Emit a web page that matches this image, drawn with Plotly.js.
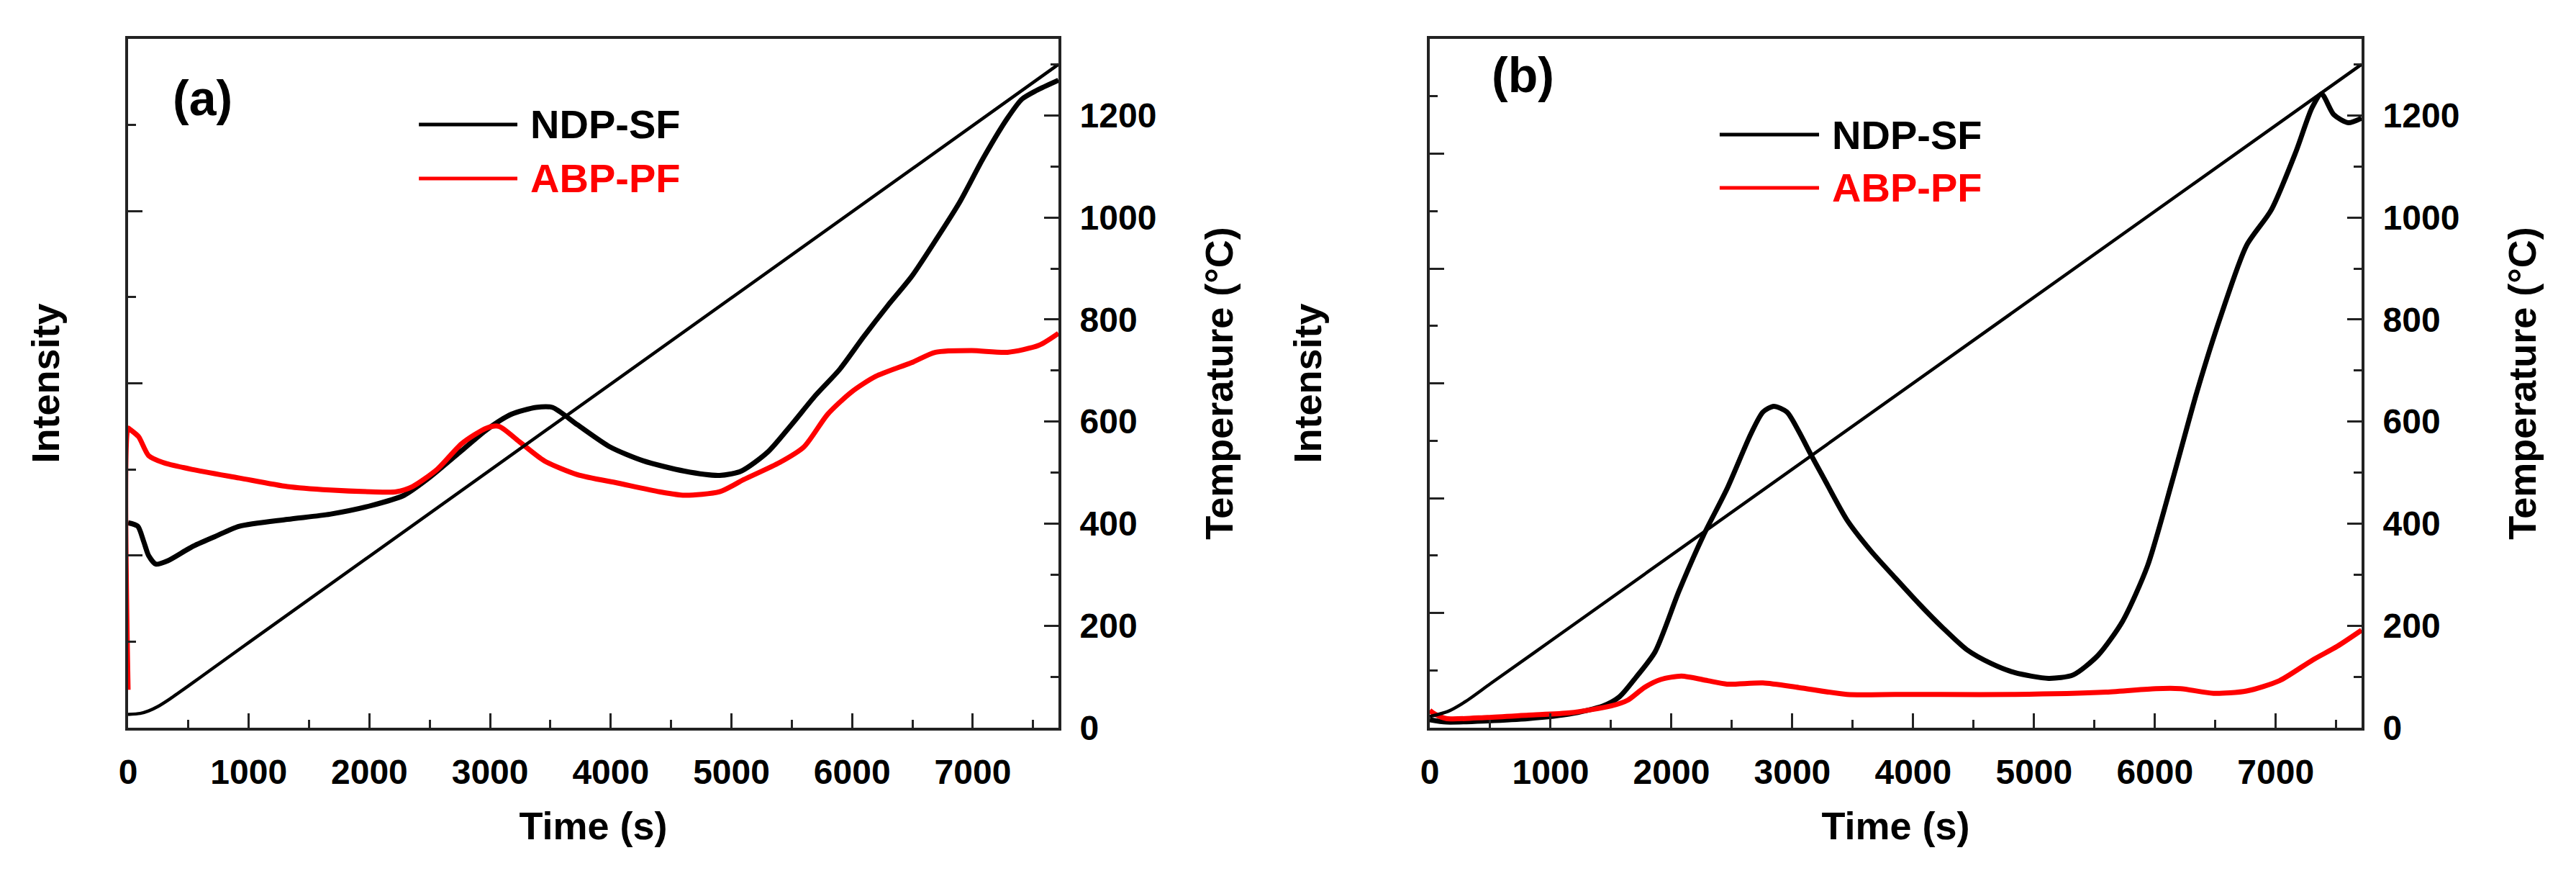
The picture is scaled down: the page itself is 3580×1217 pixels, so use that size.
<!DOCTYPE html>
<html>
<head>
<meta charset="utf-8">
<script src="https://cdn.plot.ly/plotly-3.0.1.min.js"></script>
<style>
  body { margin: 0; background: #fff; overflow: hidden; }
  #chart { width: 3580px; height: 1217px; }
</style>
</head>
<body>
<div id="chart"></div>
<script>
// panel (a) - time (s) / intensity (a.u.) / temperature (C)
var tA_ndp = [0, 80, 130, 170, 230, 330, 528, 720, 922, 1321, 1673, 2015, 2288, 2493, 2766, 2971, 3176, 3380, 3517, 3722, 3995, 4268, 4610, 4902, 5081, 5300, 5498, 5697, 5896, 6095, 6294, 6493, 6692, 6890, 7089, 7288, 7407, 7527, 7710];
var iA_ndp = [1.19, 1.17, 1.08, 1.00, 0.95, 0.97, 1.05, 1.11, 1.17, 1.21, 1.24, 1.29, 1.35, 1.45, 1.61, 1.73, 1.82, 1.86, 1.86, 1.76, 1.63, 1.55, 1.49, 1.465, 1.49, 1.60, 1.76, 1.93, 2.08, 2.27, 2.45, 2.62, 2.83, 3.05, 3.31, 3.54, 3.65, 3.70, 3.76];

var tA_abp = [0, 0, 20, 87, 170, 289, 528, 922, 1321, 1673, 2015, 2220, 2356, 2561, 2766, 2971, 3073, 3244, 3449, 3722, 4063, 4405, 4610, 4902, 5100, 5400, 5600, 5797, 5996, 6195, 6493, 6692, 6990, 7288, 7547, 7710];
var iA_abp = [0.22, 1.74, 1.73, 1.69, 1.58, 1.54, 1.50, 1.45, 1.40, 1.38, 1.37, 1.37, 1.40, 1.50, 1.65, 1.74, 1.75, 1.66, 1.55, 1.47, 1.42, 1.37, 1.35, 1.37, 1.44, 1.54, 1.63, 1.82, 1.95, 2.04, 2.12, 2.18, 2.19, 2.18, 2.22, 2.29];

var tA_temp = [0, 100, 170, 250, 350, 500, 700, 1000, 7710];
var TA = [26, 28, 33, 42, 57, 82, 116, 167, 1300];

// panel (b)
var tB_ndp = [0, 137, 478, 819, 1160, 1434, 1570, 1707, 1864, 2062, 2262, 2459, 2657, 2757, 2846, 2955, 3054, 3153, 3252, 3452, 3650, 3847, 4048, 4245, 4443, 4644, 4840, 5120, 5324, 5529, 5734, 5939, 6144, 6349, 6553, 6758, 6963, 7168, 7300, 7379, 7480, 7600, 7710];
var iB_ndp = [0.07, 0.05, 0.06, 0.08, 0.12, 0.19, 0.27, 0.44, 0.66, 1.19, 1.67, 2.08, 2.56, 2.75, 2.80, 2.75, 2.58, 2.38, 2.19, 1.81, 1.54, 1.31, 1.08, 0.87, 0.68, 0.56, 0.48, 0.43, 0.46, 0.63, 0.93, 1.41, 2.15, 2.93, 3.61, 4.20, 4.51, 5.02, 5.40, 5.52, 5.34, 5.27, 5.31];

var tB_abp = [0, 40, 137, 478, 819, 1160, 1502, 1638, 1775, 1911, 2082, 2300, 2459, 2757, 3054, 3452, 3847, 4232, 4840, 5597, 6007, 6212, 6485, 6758, 7031, 7305, 7510, 7710];
var iB_abp = [0.15, 0.12, 0.08, 0.09, 0.11, 0.13, 0.19, 0.24, 0.35, 0.42, 0.45, 0.41, 0.38, 0.39, 0.35, 0.29, 0.29, 0.29, 0.29, 0.31, 0.34, 0.34, 0.30, 0.32, 0.41, 0.59, 0.71, 0.85];

var tB_temp = [0, 150, 300, 500, 1000, 7710];
var TB = [22, 32, 52, 86, 170, 1300];

var xTicks = [0, 1000, 2000, 3000, 4000, 5000, 6000, 7000];
var tempTicks = [0, 200, 400, 600, 800, 1000, 1200];
var seriesNames = ["NDP-SF", "ABP-PF"];

var AX = "#222";
var FONT = "Liberation Sans, Arial, sans-serif";

function line(x, y, color, width, xa, ya) {
  return {
    type: "scatter",
    mode: "lines",
    x: x,
    y: y,
    xaxis: xa,
    yaxis: ya,
    line: { color: color, width: width, shape: "spline", smoothing: 0.7 },
    showlegend: false,
  };
}

var data = [
  line(tA_ndp, iA_ndp, "#000000", 7, "x", "y"),
  line(tA_abp, iA_abp, "#ff0000", 7, "x", "y"),
  line(tA_temp, TA, "#000000", 4.5, "x", "y2"),
  line(tB_ndp, iB_ndp, "#000000", 7, "x2", "y3"),
  line(tB_abp, iB_abp, "#ff0000", 7, "x2", "y3"),
  line(tB_temp, TB, "#000000", 4.5, "x2", "y4"),
];

// common axis look (Origin style: inside ticks, minor ticks, boxed frame)
function xAxis(domain, anchor) {
  return {
    domain: domain,
    anchor: anchor,
    range: [0, 7710],
    tickvals: xTicks,
    ticks: "inside",
    ticklen: 20,
    tickwidth: 3,
    tickcolor: AX,
    minor: { dtick: 500, tick0: 0, ticks: "inside", ticklen: 11, tickwidth: 3, tickcolor: AX, showgrid: false },
    showline: true,
    linecolor: AX,
    linewidth: 4,
    mirror: true,
    showgrid: false,
    zeroline: false,
    ticklabelstandoff: 16,
    tickfont: { family: FONT, size: 48, color: "#000", weight: "bold" },
    title: { text: "Time (s)", standoff: 32, font: { family: FONT, size: 54, color: "#000", weight: "bold" } },
    automargin: true,
  };
}

function intensityAxis(anchor, top, standoff) {
  return {
    anchor: anchor,
    domain: [0, 1],
    range: [0, top],
    dtick: 1,
    tick0: 0,
    showticklabels: false,
    ticks: "inside",
    ticklen: 20,
    tickwidth: 3,
    tickcolor: AX,
    minor: { dtick: 0.5, tick0: 0, ticks: "inside", ticklen: 11, tickwidth: 3, tickcolor: AX, showgrid: false },
    showline: true,
    linecolor: AX,
    linewidth: 4,
    mirror: true,
    showgrid: false,
    zeroline: false,
    title: { text: "Intensity", standoff: standoff, font: { family: FONT, size: 54, color: "#000", weight: "bold" } },
    automargin: true,
  };
}

function tempAxis(anchor, overlay) {
  return {
    anchor: anchor,
    overlaying: overlay,
    side: "right",
    range: [0, 1350],
    tickvals: tempTicks,
    ticks: "inside",
    ticklen: 20,
    tickwidth: 3,
    tickcolor: AX,
    minor: { dtick: 100, tick0: 0, ticks: "inside", ticklen: 11, tickwidth: 3, tickcolor: AX, showgrid: false },
    showline: true,
    linecolor: AX,
    linewidth: 4,
    showgrid: false,
    zeroline: false,
    ticklabelstandoff: 16,
    tickfont: { family: FONT, size: 48, color: "#000", weight: "bold" },
    title: { text: "Temperature (°C)", standoff: 70, font: { family: FONT, size: 54, color: "#000", weight: "bold" } },
    automargin: true,
  };
}

// hand made legend (long sample lines as in the original)
function legendItems(x0, x1, yTop, yBot) {
  var shapes = [
    { type: "line", xref: "paper", yref: "paper", x0: x0, x1: x1, y0: yTop, y1: yTop, line: { color: "#000", width: 5 } },
    { type: "line", xref: "paper", yref: "paper", x0: x0, x1: x1, y0: yBot, y1: yBot, line: { color: "#ff0000", width: 5 } },
  ];
  var notes = [
    { xref: "paper", yref: "paper", x: x1 + 0.005, y: yTop, xanchor: "left", yanchor: "middle", showarrow: false, text: seriesNames[0], font: { family: FONT, size: 56, color: "#000", weight: "bold" } },
    { xref: "paper", yref: "paper", x: x1 + 0.005, y: yBot, xanchor: "left", yanchor: "middle", showarrow: false, text: seriesNames[1], font: { family: FONT, size: 56, color: "#ff0000", weight: "bold" } },
  ];
  return { shapes: shapes, notes: notes };
}

var legA = legendItems(0.1302, 0.1743, 0.8757, 0.7973);
var legB = legendItems(0.7126, 0.7571, 0.8610, 0.7837);

var panelLabels = [
  { xref: "paper", yref: "paper", x: 0.0332, y: 0.9143, xanchor: "center", yanchor: "middle", showarrow: false, text: "(a)", font: { family: FONT, size: 68, color: "#000", weight: "bold" } },
  { xref: "paper", yref: "paper", x: 0.6244, y: 0.9478, xanchor: "center", yanchor: "middle", showarrow: false, text: "(b)", font: { family: FONT, size: 68, color: "#000", weight: "bold" } },
];

var layout = {
  width: 3580,
  height: 1217,
  margin: { l: 178, r: 298, t: 54, b: 206 },
  paper_bgcolor: "#fff",
  plot_bgcolor: "#fff",
  showlegend: false,
  xaxis: xAxis([0, 0.41656], "y"),
  yaxis: intensityAxis("x", 4, 75),
  yaxis2: tempAxis("x", "y"),
  xaxis2: xAxis([0.5828, 1], "y3"),
  yaxis3: intensityAxis("x2", 6, 130),
  yaxis4: tempAxis("x2", "y3"),
  shapes: legA.shapes.concat(legB.shapes),
  annotations: panelLabels.concat(legA.notes, legB.notes),
};

Plotly.newPlot("chart", data, layout, { staticPlot: true, displayModeBar: false });
</script>
</body>
</html>
